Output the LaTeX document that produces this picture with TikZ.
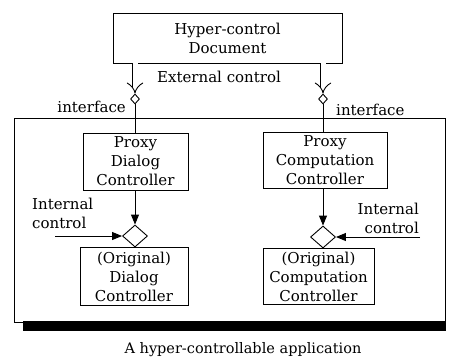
\documentclass[tikz,border=0pt]{standalone}
\usepackage{fontspec}
\setmainfont{DejaVu Serif}
\usetikzlibrary{arrows.meta,shapes.geometric,calc}
\begin{document}
\begin{tikzpicture}[x=1pt,y=1pt,
  txt/.style={font=\fontsize{15}{19}\selectfont, inner sep=0pt},
  ctrlbox/.style={draw, line width=0.9pt, align=center, inner sep=0pt,
    font=\fontsize{15}{19}\selectfont},
  port/.style={draw, diamond, line width=0.9pt, inner sep=0pt,
    minimum width=9pt, minimum height=10pt, fill=white},
  merge/.style={draw, diamond, line width=0.9pt, inner sep=0pt,
    minimum width=25pt, minimum height=22pt, fill=white},
  conn/.style={line width=0.9pt},
  flow/.style={line width=0.9pt, -{Triangle[length=10pt,width=8pt]}},
  dbl/.style={double, double distance=5pt, line width=0.9pt, -{Implies[scale=1.5]}},
]
\useasboundingbox (0,0) rectangle (449,-357);

% application frame with its drop shadow
\fill (23,-321) rectangle (446,-331);
\node[draw, line width=1pt, minimum width=431pt, minimum height=204pt, inner sep=0pt]
  (app) at (229.5,-220) {};

% hyper-control document
\node[ctrlbox, minimum width=229pt, minimum height=50pt] (doc) at (227.5,-38)
  {Hyper-control\\Document};
\node[txt] (ext) at (219,-77) {External control};

% interface ports
\node[port] (ifl) at (135,-99) {};
\node[port] (ifr) at (323,-99) {};
\node[txt, anchor=east] (ifltxt) at (126,-107) {interface};
\node[txt, anchor=west] (ifrtxt) at (336,-110) {interface};

% proxy controllers
\node[ctrlbox, minimum width=105pt, minimum height=57pt] (pdc) at (135.5,-161.5)
  {Proxy\\Dialog\\Controller};
\node[ctrlbox, minimum width=124pt, minimum height=56pt] (pcc) at (325,-160)
  {Proxy\\Computation\\Controller};

% merge points
\node[merge] (ml) at (135,-236) {};
\node[merge] (mr) at (323,-237) {};

% original controllers
\node[ctrlbox, minimum width=108pt, minimum height=58pt, anchor=north] (odc) at (134,-247)
  {(Original)\\Dialog\\Controller};
\node[ctrlbox, minimum width=111pt, minimum height=56pt, anchor=north] (occ) at (318.5,-248)
  {(Original)\\Computation\\Controller};

% internal control labels and sources
\node[txt, align=left, anchor=north west] (intl) at (32,-198) {Internal\\control};
\node[txt, align=right, anchor=north east] (intr) at (419,-203) {Internal\\control};
\coordinate (srcl) at (55,-236);
\coordinate (srcr) at (420,-237);

% external control links
\draw[dbl] (doc.south -| ifl) -- (ifl.north);
\draw[dbl] (ifr |- doc.south) -- (ifr.north);
\draw[conn] (ifl.south) -- (ifl.south |- pdc.north);
\draw[conn] (ifr.south) -- (ifr.south |- pcc.north);

% internal flows
\draw[flow] (pdc.south -| ml) -- (ml.north);
\draw[flow] (pcc.south -| mr) -- (mr.north);
\draw[flow] (srcl) -- (ml.west);
\draw[flow] (srcr) -- (mr.east);

% caption
\node[txt, font=\fontsize{14.5}{19}\selectfont] (cap) at (243,-350) {A hyper-controllable application};
\end{tikzpicture}
\end{document}
